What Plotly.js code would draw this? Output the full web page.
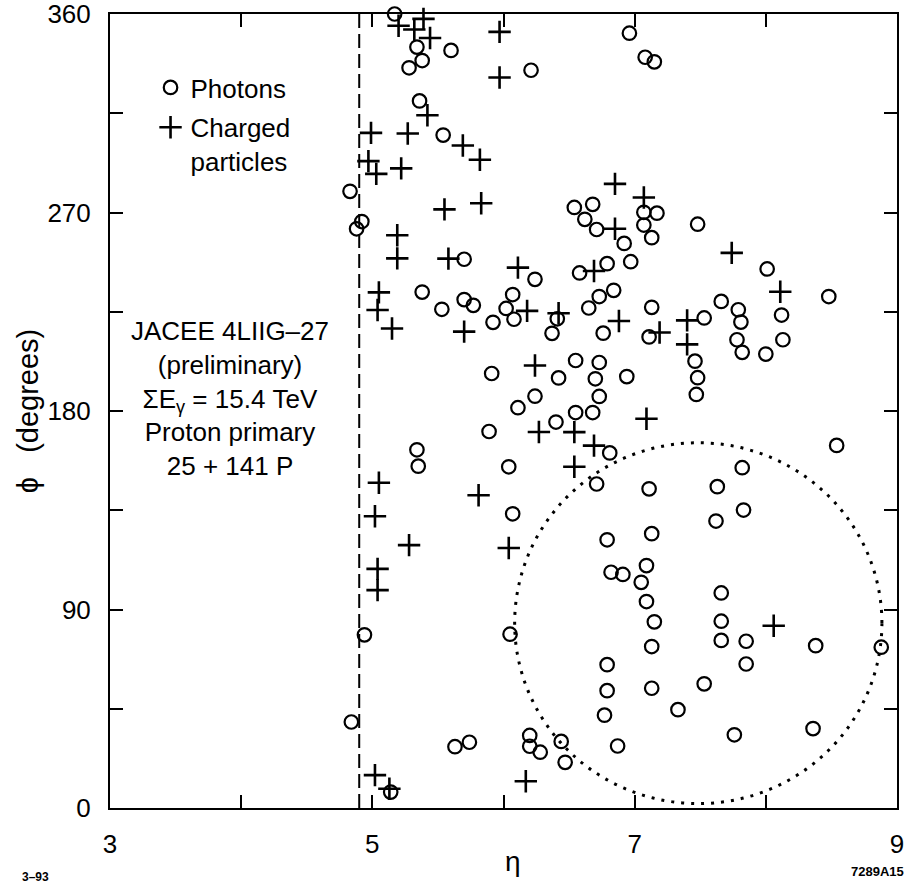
<!DOCTYPE html>
<html>
<head>
<meta charset="utf-8">
<script src="https://cdn.plot.ly/plotly-3.0.1.min.js"></script>
<style>html,body{margin:0;padding:0;background:#fff;}#chart{width:912px;height:883px;}</style>
</head>
<body>
<div id="chart"></div>
<script>
// Photons (open circles): pseudorapidity eta and azimuth phi (degrees)
const photonEta = [5.17,5.34,5.38,5.28,5.60,6.21,6.96,7.08,7.15,5.36,5.54,4.83,4.92,4.88,6.54,6.68,6.62,6.71,6.92,6.97,6.79,6.58,7.07,7.17,7.07,7.13,7.48,8.01,5.70,6.24,5.38,5.53,5.70,5.77,5.92,6.07,6.02,6.08,6.41,6.37,6.65,6.73,6.84,6.76,7.13,7.11,7.53,7.66,7.79,7.81,7.78,7.82,8.00,8.12,8.13,8.48,5.91,6.55,6.73,6.42,6.70,6.24,6.73,6.11,6.55,6.68,6.40,5.89,5.34,5.35,6.04,6.81,6.71,6.07,6.79,6.94,7.46,7.48,7.47,7.11,7.63,7.82,8.54,7.83,7.62,7.13,7.09,6.82,6.91,7.05,7.09,7.15,7.13,6.79,6.79,6.77,7.13,6.87,7.33,7.53,7.66,7.66,7.66,7.85,7.85,7.76,8.38,8.36,8.88,4.94,4.84,5.63,5.74,6.05,6.20,6.20,6.28,6.44,6.47,5.14];
const photonPhi = [360,345.0,338.9,335.6,343.5,334.5,351.3,340.4,338.3,320.6,305.1,279.6,265.9,262.6,272.3,273.7,266.9,262.3,256.0,247.7,246.8,242.6,270.1,269.7,264.3,258.6,264.7,244.4,248.8,239.7,233.9,226.1,230.5,227.9,220.2,232.8,226.5,221.6,221.8,215.2,226.7,231.9,234.7,215.3,227.0,213.6,222.2,229.7,225.9,220.3,212.3,206.6,205.8,223.5,212.3,231.9,197.0,202.9,202.0,195.0,194.6,186.7,186.6,181.5,179.3,179.3,175.0,170.7,162.4,155.0,154.7,161.0,146.9,133.4,121.6,195.6,202.6,195.1,187.5,144.7,145.7,154.3,164.4,135.1,130.1,124.4,109.9,106.9,105.9,102.3,93.6,84.4,73.2,65.0,53.2,42.1,54.3,28.1,44.6,56.3,97.5,84.7,76.0,75.6,65.3,33.2,73.6,36.0,72.9,78.5,39.0,27.8,29.8,78.8,32.9,28.0,25.3,30.2,20.7,7.2];

// Charged particles (plus signs)
const chargedEta = [5.39,5.20,5.32,5.44,5.97,5.97,5.42,4.99,5.27,5.69,5.82,4.97,5.03,5.22,5.83,5.55,5.19,5.19,5.58,6.85,7.07,6.85,7.74,6.11,6.69,5.05,5.04,5.15,5.70,6.18,6.42,6.88,7.19,7.40,7.40,8.11,6.24,7.09,6.27,6.54,6.69,6.54,5.05,5.81,5.02,5.28,6.04,5.04,5.04,8.06,5.02,5.13,6.17];
const chargedPhi = [357.8,354.7,353.0,349.1,351.9,331.2,314.1,306.1,305.8,300.4,293.9,293.3,287.5,290.0,274.2,271.4,259.7,249.2,249.1,283.0,276.8,262.6,251.7,245.0,243.5,233.8,225.8,217.4,216.0,225.4,224.3,220.8,215.6,221.1,210.2,234.1,200.6,176.5,170.5,170.4,164.3,154.7,147.5,141.8,132.3,119.2,117.9,108.4,98.8,82.6,14.9,8.7,12.1];

// Axis ticks (labelled majors, unlabelled minors)
const xTickVals = [3,5,7,9];
const xMinorStep = 1;
const yTickVals = [0,90,180,270,360];
const yMinorStep = 45;

// Reference guides: dashed cut at eta = 4.9, dotted cone region
const cutEta = 4.9;
const coneEta = [6.085, 8.885];
const conePhi = [2.0, 165.6];

const FONT = 'Liberation Sans, Arial, Helvetica, sans-serif';

const traces = [
  {
    x: photonEta, y: photonPhi, type: 'scatter', mode: 'markers', name: 'Photons',
    legendgroup: 'a', cliponaxis: false,
    marker: {symbol: 'circle-open', size: 13.5, color: '#000', line: {color: '#000', width: 2.2}}
  },
  {
    x: chargedEta, y: chargedPhi, type: 'scatter', mode: 'markers', name: 'Charged<br>particles',
    legendgroup: 'b', cliponaxis: false,
    marker: {symbol: 'cross-thin-open', size: 16, color: '#000', line: {color: '#000', width: 2.6}}
  }
];

const tickStyle = {ticks: 'inside', ticklen: 13, tickwidth: 2, tickcolor: '#000'};

const layout = {
  width: 912, height: 883,
  margin: {l: 110, r: 15, t: 14, b: 75},
  paper_bgcolor: '#fff', plot_bgcolor: '#fff',
  font: {family: FONT, color: '#000', size: 26},
  showlegend: true,
  legend: {
    x: 0.0515, y: 0.937, xanchor: 'left', yanchor: 'top',
    bgcolor: 'rgba(0,0,0,0)', borderwidth: 0,
    font: {family: FONT, size: 26, color: '#000'},
    traceorder: 'grouped', tracegroupgap: 3, valign: 'top'
  },
  xaxis: Object.assign({
    range: [3, 9], tickmode: 'array', tickvals: xTickVals,
    showline: true, linewidth: 2, linecolor: '#000', mirror: 'ticks',
    showgrid: false, zeroline: false,
    tickfont: {family: FONT, size: 26, color: '#000'},
    ticklabelstandoff: 12, ticklabeloverflow: 'allow',
    minor: Object.assign({dtick: xMinorStep, tick0: 3, showgrid: false}, tickStyle)
  }, tickStyle),
  yaxis: Object.assign({
    range: [0, 360], tickmode: 'array', tickvals: yTickVals,
    showline: true, linewidth: 2, linecolor: '#000', mirror: 'ticks',
    showgrid: false, zeroline: false,
    tickfont: {family: FONT, size: 26, color: '#000'},
    ticklabelstandoff: 12, ticklabeloverflow: 'allow',
    minor: Object.assign({dtick: yMinorStep, tick0: 0, showgrid: false}, tickStyle),
    title: {text: 'ϕ\u00a0\u00a0\u00a0(degrees)\u00a0\u00a0', font: {family: FONT, size: 29, color: '#000'}, standoff: 0}
  }, tickStyle),
  shapes: [
    {type: 'line', xref: 'x', yref: 'y', x0: cutEta, x1: cutEta, y0: 0, y1: 360,
     line: {color: '#000', width: 2, dash: '14px,6px'}},
    {type: 'circle', xref: 'x', yref: 'y', x0: coneEta[0], x1: coneEta[1], y0: conePhi[0], y1: conePhi[1],
     line: {color: '#000', width: 3, dash: '3px,7px'}}
  ],
  annotations: [
    {xref: 'paper', yref: 'paper', x: 0.512, y: -0.068, xanchor: 'center', yanchor: 'middle',
     showarrow: false, font: {family: FONT, size: 28, color: '#000'}, text: 'η'},
    {xref: 'paper', yref: 'paper', x: 0.1524, y: 0.5156, xanchor: 'center', yanchor: 'middle',
     showarrow: false, align: 'center', font: {family: FONT, size: 26, color: '#000'},
     text: 'JACEE 4LIIG–27<br>(preliminary)<br>ΣE<sub>γ</sub> = 15.4 TeV<br>Proton primary<br>25 + 141 P'},
    {xref: 'paper', yref: 'paper', x: -0.0952, y: -0.0875, xanchor: 'center', yanchor: 'middle',
     showarrow: false, font: {family: FONT, size: 12, color: '#000'}, text: '<b>3–93</b>'},
    {xref: 'paper', yref: 'paper', x: 1.011, y: -0.08, xanchor: 'right', yanchor: 'middle',
     showarrow: false, font: {family: FONT, size: 13, color: '#000'}, text: '<b>7289A15</b>'}
  ]
};

Plotly.newPlot('chart', traces, layout, {staticPlot: true, displayModeBar: false});
</script>
</body>
</html>
